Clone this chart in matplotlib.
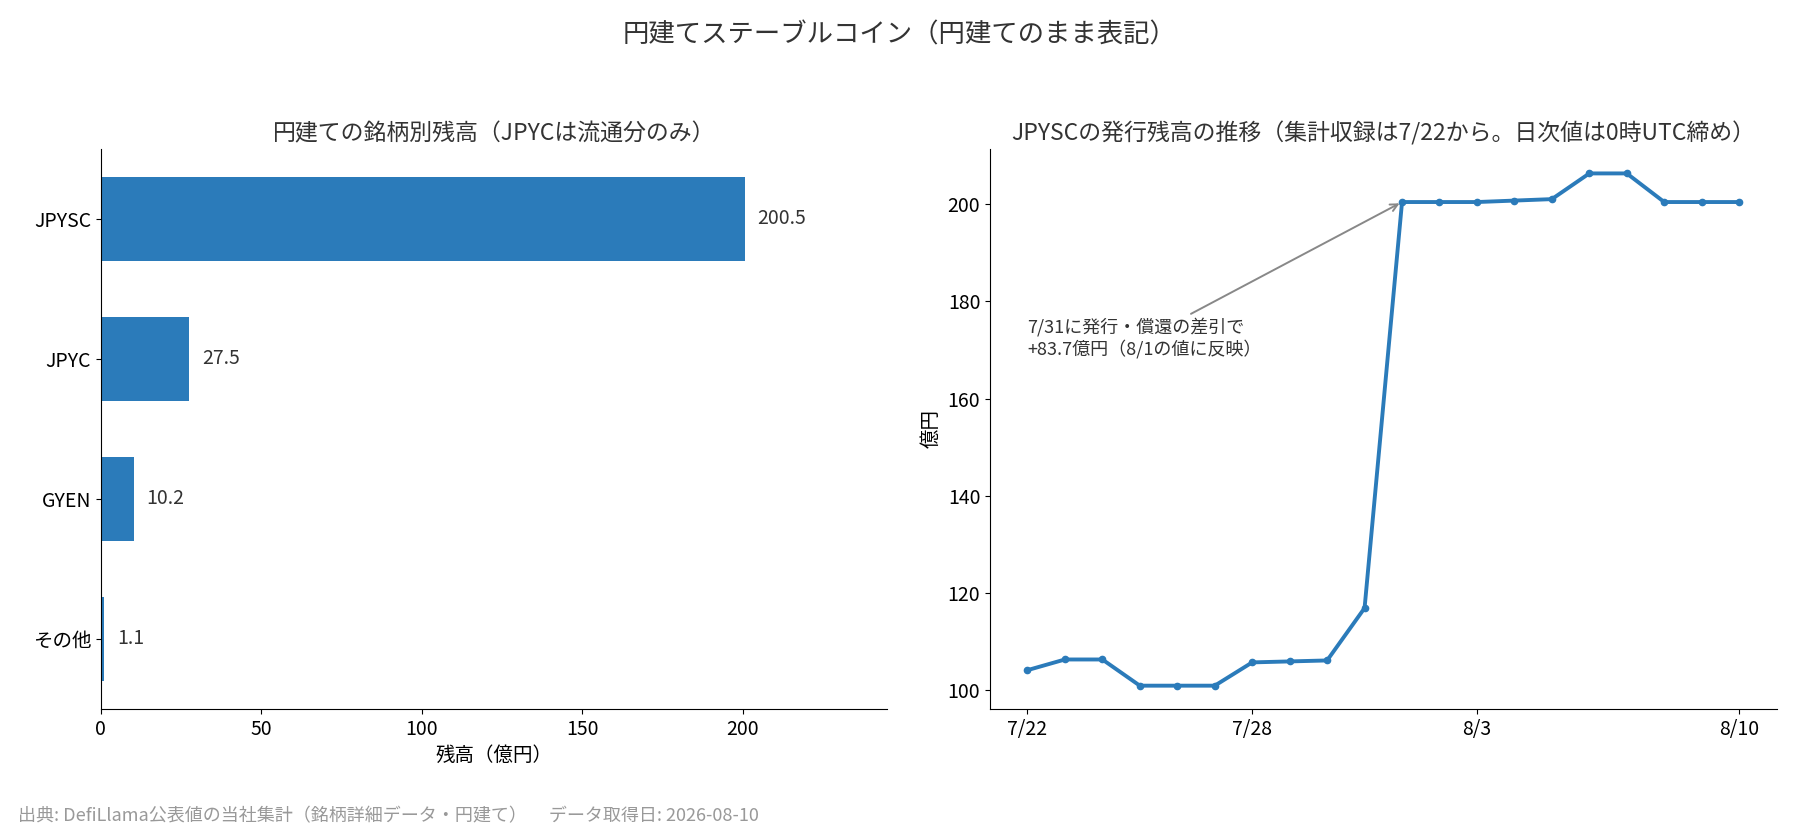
import matplotlib
matplotlib.use("Agg")
import matplotlib.pyplot as plt
import numpy as np

plt.rcParams['font.family'] = ['Noto Sans CJK JP', 'DejaVu Sans']

names = ["JPYSC", "JPYC", "GYEN", "その他"]
balances = [200.5, 27.5, 10.2, 1.1]

dates = ["7/22","7/23","7/24","7/25","7/26","7/27","7/28","7/29","7/30","7/31",
         "8/1","8/2","8/3","8/4","8/5","8/6","8/7","8/8","8/9","8/10"]
values = [104.0,106.2,106.2,100.8,100.8,100.8,105.6,105.8,106.0,116.8,
          200.5,200.5,200.5,200.8,201.1,206.4,206.4,200.5,200.5,200.5]
tick_labels = ["7/22","7/28","8/3","8/10"]

C = "#2b7bba"
fig = plt.figure(figsize=(18, 8.4), dpi=100)
ax1 = fig.add_axes([0.056, 0.156, 0.437, 0.667])
ax2 = fig.add_axes([0.55, 0.156, 0.437, 0.667])

fig.suptitle("円建てステーブルコイン（円建てのまま表記）", fontsize=19, y=0.975, color="#333333")

y = np.arange(len(names))
ax1.barh(y, balances, height=0.6, color=C)
for yi, v in zip(y, balances):
    ax1.text(v + 4, yi, f"{v}", va="center", fontsize=14, color="#333333")
ax1.set_yticks(y)
ax1.set_yticklabels(names, fontsize=14)
ax1.set_xlim(0, 245)
ax1.set_ylim(3.5, -0.5)
ax1.set_xticks([0, 50, 100, 150, 200])
ax1.tick_params(labelsize=14)
ax1.set_xlabel("残高（億円）", fontsize=14)
ax1.set_title("円建ての銘柄別残高（JPYCは流通分のみ）", fontsize=16.5, color="#333333")

x = np.arange(len(dates))
ax2.plot(x, values, color=C, lw=2.8, marker="o", ms=4.5)
ax2.set_xticks([dates.index(t) for t in tick_labels])
ax2.set_xticklabels(tick_labels)
ax2.set_xlim(-1, 20)
ax2.set_ylim(96, 211.5)
ax2.set_yticks([100, 120, 140, 160, 180, 200])
ax2.tick_params(labelsize=14)
ax2.set_ylabel("億円", fontsize=14)
ax2.set_title("JPYSCの発行残高の推移（集計収録は7/22から。日次値は0時UTC締め）", fontsize=16.5, color="#333333")
ax2.annotate("7/31に発行・償還の差引で\n+83.7億円（8/1の値に反映）",
             xy=(10, 200.5), xytext=(0, 169), fontsize=13, color="#333333",
             arrowprops=dict(arrowstyle="->", color="#888888", lw=1.4))

for ax in (ax1, ax2):
    ax.spines["top"].set_visible(False)
    ax.spines["right"].set_visible(False)

fig.text(0.01, 0.022, "出典: DefiLlama公表値の当社集計（銘柄詳細データ・円建て）　 データ取得日: 2026-08-10",
         fontsize=13, color="#999999")
fig.savefig("out.png", dpi=100)
